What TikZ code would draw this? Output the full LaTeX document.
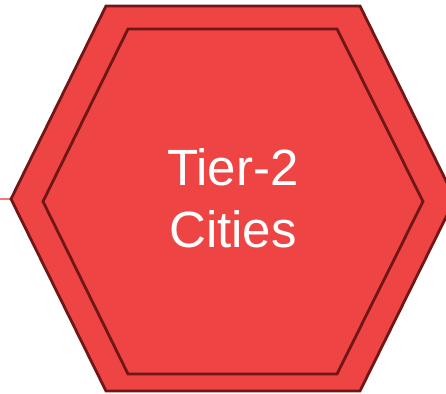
\documentclass[tikz,border=0pt]{standalone}
\usepackage{fontspec}
\setmainfont{Liberation Sans}
\definecolor{hexfill}{RGB}{239,68,68}
\definecolor{hexedge}{RGB}{112,22,22}
\definecolor{linkred}{RGB}{240,120,120}
\begin{document}
\begin{tikzpicture}[x=1pt,y=-1pt,
  hexline/.style={draw=hexedge,line width=2.8pt,fill=hexfill,line join=miter},
  label/.style={text=white,align=center,font=\fontsize{51}{62}\selectfont}]
\useasboundingbox (0,0) rectangle (446,393);
\clip (0,0) rectangle (446,393);
% incoming connector
\coordinate (src) at (0,199);
\coordinate (outerL) at (11,199);
\draw[linkred,line width=1.5pt] (src) -- (outerL);
% outer hexagon
\draw[hexline] (outerL) -- (106,6) -- (360,6) -- (455,199) -- (360,391) -- (106,391) -- cycle;
% inner hexagon
\draw[hexline] (43,201.5) -- (128,29) -- (337,29) -- (423,201.5) -- (337,374) -- (128,374) -- cycle;
\node[label] (city) at (233,198) {Tier-2\\Cities};
\end{tikzpicture}
\end{document}
